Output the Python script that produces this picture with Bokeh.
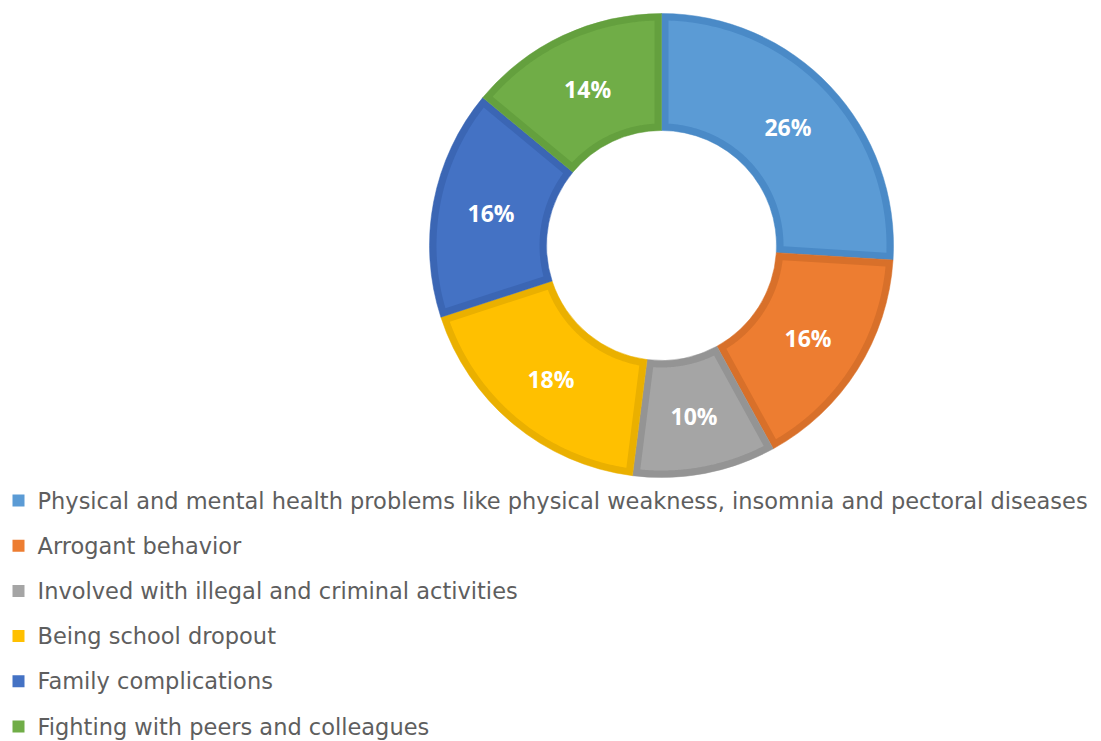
import numpy as np
from bokeh.plotting import figure
from bokeh.models import Range1d, ColumnDataSource
from bokeh.core.properties import value
from bokeh.embed import file_html
from bokeh.resources import INLINE

# Share of each consequence (percent), drawn clockwise from 12 o'clock
categories = [
    "Physical and mental health problems like physical weakness, insomnia and pectoral diseases",
    "Arrogant behavior",
    "Involved with illegal and criminal activities",
    "Being school dropout",
    "Family complications",
    "Fighting with peers and colleagues",
]
shares = [26, 16, 10, 18, 16, 14]
fill_colors = ["#5B9BD5", "#ED7D31", "#A5A5A5", "#FFC000", "#4472C4", "#70AD47"]
edge_colors = ["#4A8AC7", "#D8702A", "#949494", "#EAB000", "#3B66B4", "#64A03E"]

W, H = 1101, 741
p = figure(width=W, height=H, output_backend="svg", toolbar_location=None,
           x_range=Range1d(0, W), y_range=Range1d(0, H), min_border=0)
p.axis.visible = False
p.grid.visible = False
p.outline_line_color = None
p.background_fill_color = "white"

cx, cy = 661, H - 245
r_out, r_in = 232, 115
edge = 7

vals = np.array(shares, dtype=float)
frac = vals / vals.sum()
ends = np.pi / 2 - 2 * np.pi * np.cumsum(frac)
starts = np.concatenate([[np.pi / 2], ends[:-1]])

# outer band of each slice in its darker shade
p.annular_wedge(x=cx, y=cy, inner_radius=r_in, outer_radius=r_out,
                start_angle=ends, end_angle=starts,
                fill_color=edge_colors, line_color=edge_colors, line_width=0.5)

# lighter body of each slice, inset evenly from every edge
xs, ys = [], []
for a_start, a_end in zip(starts, ends):
    ro, ri = r_out - edge, r_in + edge
    o1 = a_start - np.arcsin(edge / ro)
    o2 = a_end + np.arcsin(edge / ro)
    i1 = a_start - np.arcsin(edge / ri)
    i2 = a_end + np.arcsin(edge / ri)
    t_out = np.linspace(o1, o2, 120)
    t_in = np.linspace(i2, i1, 80)
    xs.append(list(cx + ro * np.cos(t_out)) + list(cx + ri * np.cos(t_in)))
    ys.append(list(cy + ro * np.sin(t_out)) + list(cy + ri * np.sin(t_in)))
p.patches(xs=xs, ys=ys, fill_color=fill_colors, line_color=None)

# percentage labels in the middle of the ring
mid = (starts + ends) / 2
r_lab = (r_out + r_in) / 2
lab = ColumnDataSource(dict(x=cx + r_lab * np.cos(mid), y=cy + r_lab * np.sin(mid),
                            t=[f"{v:g}%" for v in shares]))
p.text(x="x", y="y", text="t", source=lab, text_color="white",
       text_font=value("Open Sans"), text_font_style="bold", text_font_size="23px",
       text_align="center", text_baseline="middle")

# legend rows below the ring
rows = np.arange(len(categories))
row_y = H - (500 + rows * 45.2)
p.rect(x=18, y=row_y, width=12, height=12, fill_color=fill_colors, line_color=None)
p.text(x=37, y=row_y, text=categories, text_color="#5E5E5E",
       text_font=value("DejaVu Sans"), text_font_size="22.5px",
       text_align="left", text_baseline="middle")

open("out.html", "w").write(file_html(p, INLINE))
